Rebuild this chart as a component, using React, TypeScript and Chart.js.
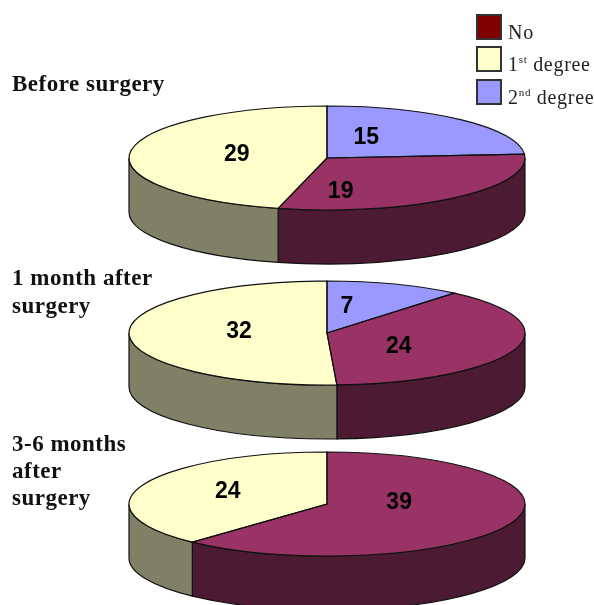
import React, { useEffect, useRef } from "react";
import { Chart, registerables } from "chart.js";

Chart.register(...registerables);

// Patient counts per period, clockwise from twelve o'clock.
const categories = ["2nd degree", "No", "1st degree"];
const beforeSurgery = [15, 19, 29];
const oneMonthAfter = [7, 24, 32];
const threeToSixMonths = [0, 39, 24];

const topColors = ["#9999FF", "#993366", "#FFFFCC"];
const sideColors = ["#4D4D80", "#4D1A33", "#808066"];

const RX = 198;
const RY = 52;
const DEPTH = 54;

const pies = [
  { name: "before", values: beforeSurgery, cx: 327, cy: 158, nudge: [[-28, -1], [-50, 14], [8, 0]] },
  { name: "month", values: oneMonthAfter, cx: 327, cy: 333, nudge: [[-14, -2], [-22, 5], [11, -2]] },
  { name: "later", values: threeToSixMonths, cx: 327, cy: 504, nudge: [[0, 0], [-20, -11], [-7, -3]] },
];

// Tilts a flat pie into a disc: side walls first, then the squashed top, then outlines and counts.
const discPlugin = {
  id: "disc",
  beforeDatasetsDraw(chart: any, _args: any, opts: any) {
    const ctx = chart.ctx;
    const arcs = chart.getDatasetMeta(0).data;
    ctx.save();
    ctx.lineWidth = 1.2;
    ctx.strokeStyle = "#111";
    arcs.forEach((arc: any, i: number) => {
      const a = Math.max(arc.startAngle, 0);
      const b = Math.min(arc.endAngle, Math.PI);
      if (b <= a) return;
      ctx.beginPath();
      ctx.ellipse(opts.cx, opts.cy, RX, RY, 0, a, b);
      ctx.ellipse(opts.cx, opts.cy + DEPTH, RX, RY, 0, b, a, true);
      ctx.closePath();
      ctx.fillStyle = sideColors[i];
      ctx.fill();
      ctx.stroke();
    });
    ctx.restore();

    const first = arcs[0];
    ctx.save();
    ctx.translate(opts.cx, opts.cy);
    ctx.scale(1, RY / RX);
    ctx.translate(-first.x, -first.y);
  },
  afterDatasetsDraw(chart: any, _args: any, opts: any) {
    const ctx = chart.ctx;
    ctx.restore();
    const arcs = chart.getDatasetMeta(0).data;
    const values = chart.data.datasets[0].data;

    ctx.save();
    ctx.lineWidth = 1.2;
    ctx.strokeStyle = "#111";
    arcs.forEach((arc: any) => {
      if (arc.endAngle - arc.startAngle <= 0) return;
      ctx.beginPath();
      ctx.moveTo(opts.cx, opts.cy);
      ctx.ellipse(opts.cx, opts.cy, RX, RY, 0, arc.startAngle, arc.endAngle);
      ctx.closePath();
      ctx.stroke();
    });

    ctx.fillStyle = "#000";
    ctx.font = "bold 23px 'Liberation Sans'";
    ctx.textAlign = "center";
    ctx.textBaseline = "middle";
    arcs.forEach((arc: any, i: number) => {
      if (!values[i]) return;
      const mid = (arc.startAngle + arc.endAngle) / 2;
      const x = opts.cx + 0.5 * RX * Math.cos(mid) + opts.nudge[i][0];
      const y = opts.cy + 0.5 * RY * Math.sin(mid) + opts.nudge[i][1];
      ctx.fillText(String(values[i]), x, y);
    });
    ctx.restore();
  },
};

function Pie({ pie }: { pie: (typeof pies)[number] }) {
  const ref = useRef<HTMLCanvasElement>(null);
  useEffect(() => {
    const chart = new Chart(ref.current!, {
      type: "pie",
      data: {
        labels: categories,
        datasets: [{ data: pie.values, backgroundColor: topColors, borderWidth: 0 }],
      },
      options: {
        responsive: false,
        animation: false,
        events: [],
        radius: RX,
        plugins: {
          legend: { display: false },
          tooltip: { enabled: false },
          disc: { cx: pie.cx, cy: pie.cy, nudge: pie.nudge },
        },
      } as any,
      plugins: [discPlugin],
    });
    return () => chart.destroy();
  }, [pie]);
  return <canvas ref={ref} width={594} height={605} style={{ position: "absolute", left: 0, top: 0 }} />;
}

const serif = "'Liberation Serif', serif";

const headings = [
  { text: "Before surgery", top: 71 },
  { text: "1 month after", top: 265 },
  { text: "surgery", top: 293 },
  { text: "3-6 months", top: 431 },
  { text: "after", top: 458 },
  { text: "surgery", top: 485 },
];

const legendRows = [
  { color: "#800000", top: 14, base: "No", sup: "" },
  { color: "#FFFFCC", top: 46, base: "1", sup: "st", rest: " degree" },
  { color: "#9999FF", top: 79, base: "2", sup: "nd", rest: " degree" },
];

export default function App() {
  return (
    <div style={{ position: "absolute", left: 0, top: 0, width: 594, height: 605, background: "#fff", overflow: "hidden" }}>
      {pies.map((p) => (
        <Pie key={p.name} pie={p} />
      ))}
      {headings.map((h, i) => (
        <div
          key={i}
          style={{ position: "absolute", left: 12, top: h.top, font: `bold 23px ${serif}`, letterSpacing: 0.5, lineHeight: "26px", whiteSpace: "nowrap", color: "#111" }}
        >
          {h.text}
        </div>
      ))}
      {legendRows.map((r) => (
        <React.Fragment key={r.base}>
          <div
            style={{ position: "absolute", left: 476, top: r.top, width: 22, height: 22, border: "2px solid #333", background: r.color }}
          />
          <div
            style={{ position: "absolute", left: 508, top: r.top + 5, font: `20px ${serif}`, letterSpacing: 0.7, lineHeight: "26px", whiteSpace: "nowrap", color: "#222" }}
          >
            {r.base}
            {r.sup && <sup style={{ fontSize: 11, lineHeight: 0 }}>{r.sup}</sup>}
            {r.rest}
          </div>
        </React.Fragment>
      ))}
    </div>
  );
}
